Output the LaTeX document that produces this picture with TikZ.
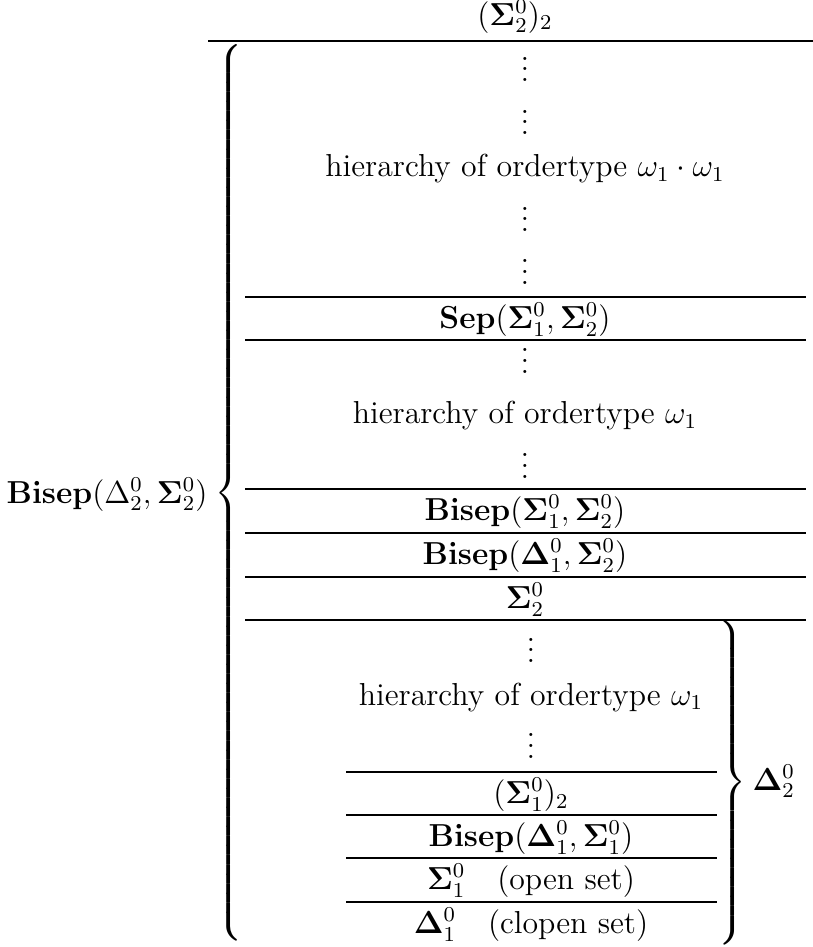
\documentclass[tikz,border=0pt]{standalone}
\usepackage{amsmath}
\newcommand{\hierLbrace}[1]{$\delimitershortfall=0pt\delimiterfactor=1000\left\{\vrule height\dimexpr#1+3pt\relax depth\dimexpr#1-3pt\relax width0pt\right.$}
\newcommand{\hierRbrace}[1]{$\delimitershortfall=0pt\delimiterfactor=1000\left.\vrule height\dimexpr#1+3pt\relax depth\dimexpr#1-3pt\relax width0pt\right\}$}
\begin{document}
\begin{tikzpicture}[x=0.37736pt,y=-0.37736pt,
  every node/.style={inner sep=0pt, font=\fontsize{12}{14.5}\selectfont},
  cell/.style={anchor=base},
  rulex/.style={line width=0.4pt},
  toprulex/.style={line width=0.8pt}]
\useasboundingbox (0,0) rectangle (813,947);

% top label and top rule
\node[cell] (top) at (515,25) {$(\mathbf{\Sigma}^0_2)_2$};
\draw[toprulex] (208,41) -- (813,41);

% left label and big brace
\node[anchor=base east] (bisep) at (208,503) {$\mathbf{Bisep}(\Delta^0_2, \mathbf{\Sigma}^0_2)$};
\node (lbrace) at (230,493) {\hierLbrace{168pt}};

% upper section
\node[cell] (v1) at (525,81.5) {$\vdots$};
\node[cell] (v2) at (525,134.5) {$\vdots$};
\node[cell] (h1) at (525,176.5) {hierarchy of ordertype $\omega_1\cdot\omega_1$};
\node[cell] (v3) at (525,231.5) {$\vdots$};
\node[cell] (v4) at (525,284) {$\vdots$};
\draw[rulex] (245,297) -- (806,297);
\node[cell] (sep) at (525,328.5) {$\mathbf{Sep}(\mathbf{\Sigma}^0_1, \mathbf{\Sigma}^0_2)$};
\draw[rulex] (245,340) -- (806,340);
\node[cell] (v5) at (525,373) {$\vdots$};
\node[cell] (h2) at (525,423.5) {hierarchy of ordertype $\omega_1$};
\node[cell] (v6) at (525,478) {$\vdots$};
\draw[rulex] (245,489) -- (806,489);
\node[cell] (b1) at (525,520.5) {$\mathbf{Bisep}(\mathbf{\Sigma}^0_1, \mathbf{\Sigma}^0_2)$};
\draw[rulex] (245,533) -- (806,533);
\node[cell] (b2) at (525,564.5) {$\mathbf{Bisep}(\mathbf{\Delta}^0_1, \mathbf{\Sigma}^0_2)$};
\draw[rulex] (245,577) -- (806,577);
\node[cell] (s2) at (525,608.5) {$\mathbf{\Sigma}^0_2$};
\draw[rulex] (245,620) -- (806,620);

% lower section
\node[cell] (v7) at (531,662.5) {$\vdots$};
\node[cell] (h3) at (531,705) {hierarchy of ordertype $\omega_1$};
\node[cell] (v8) at (531,758) {$\vdots$};
\draw[rulex] (346,772) -- (717,772);
\node[cell] (s12) at (531,803.5) {$(\mathbf{\Sigma}^0_1)_2$};
\draw[rulex] (346,815) -- (717,815);
\node[cell] (b3) at (531,846.5) {$\mathbf{Bisep}(\mathbf{\Delta}^0_1, \mathbf{\Sigma}^0_1)$};
\draw[rulex] (346,858) -- (717,858);
\node[cell] (open) at (531,889.5) {$\mathbf{\Sigma}^0_1$\quad(open set)};
\draw[rulex] (346,902) -- (717,902);
\node[cell] (clopen) at (531,933.5) {$\mathbf{\Delta}^0_1$\quad(clopen set)};

% right brace and label
\node (rbrace) at (731,782.5) {\hierRbrace{60pt}};
\node[anchor=base west] (d2) at (752,790) {$\mathbf{\Delta}^0_2$};
\end{tikzpicture}
\end{document}
